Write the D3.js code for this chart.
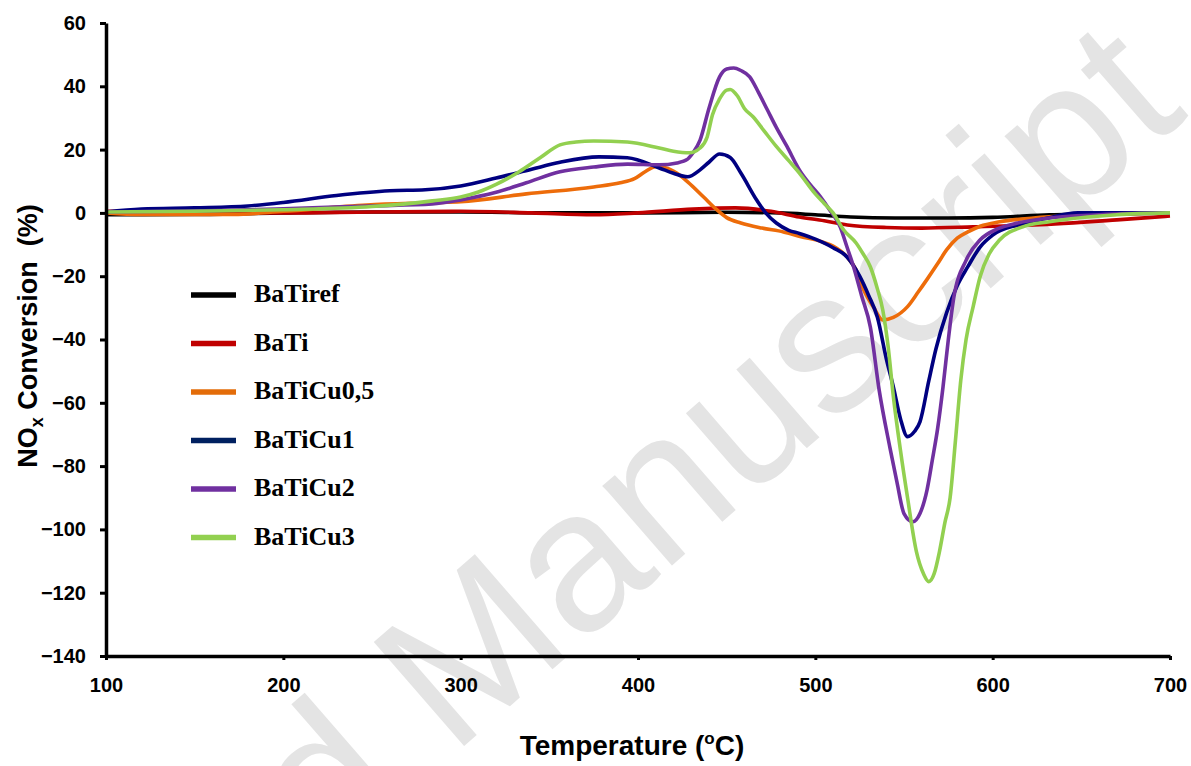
<!DOCTYPE html>
<html>
<head>
<meta charset="utf-8">
<script src="https://cdn.jsdelivr.net/npm/d3@7"></script>
<style>
	body { margin: 0; background: #fff; }
	svg { display: block; }
	.tick text { font-family: "Liberation Sans", Arial, sans-serif; font-weight: bold; font-size: 20px; fill: #000; }
</style>
</head>
<body>
<div id="graph-div"></div>
<script>
'use strict'

// series names, as in the legend
const seriesNames = ["BaTiref", "BaTi", "BaTiCu0,5", "BaTiCu1", "BaTiCu2", "BaTiCu3"]

// temperature (C) / NOx conversion (%)
const tRef = [100, 150, 200, 250, 300, 350, 400, 450, 480, 500, 520, 545, 575, 600, 632, 670, 700]
const vRef = [-0.6, -0.5, 0, 0.3, 0.3, 0, 0, 0.2, 0, -0.6, -1.3, -1.6, -1.6, -1.4, -0.6, -0.2, 0]

const tTi = [100, 150, 200, 250, 300, 340, 375, 400, 431, 455, 475, 491, 505, 518, 540, 560, 589, 623, 670, 700]
const vTi = [0.5, 0.3, 0, 0.3, 0.5, 0, -0.6, 0, 1.2, 1.6, 0.5, -1.3, -2.5, -3.8, -4.6, -4.8, -4.4, -3.8, -2.2, -1]

const tCu05 = [100, 120, 150, 172, 200, 247, 284, 300, 337, 375, 390, 398, 404, 410, 416, 422, 428, 437, 444, 450, 458, 470, 482, 492, 503, 510, 518, 523, 527, 533, 538, 544, 552, 558, 563, 569, 574, 580, 586, 593, 604, 623, 650, 700]
const vCu05 = [0, -0.5, -0.5, -0.5, 0.5, 2.5, 3.2, 3.5, 6, 8.2, 9.5, 10.8, 13, 14.6, 14.2, 12.5, 9.8, 5, 1.2, -1.5, -3.2, -4.8, -6, -7.5, -9, -10.5, -14, -18, -24, -30, -33.8, -33, -29.6, -25, -21, -16, -11.7, -8, -6, -4.2, -2.8, -1.6, -0.8, 0]

const tCu1 = [100, 120, 150, 180, 200, 230, 260, 280, 300, 320, 340, 356, 378, 394, 412, 420, 428, 435, 440, 446, 452, 458, 467, 472, 478, 485, 491, 500, 510, 518, 525, 530, 535, 540, 544, 548, 552, 556, 559, 564, 568, 574, 580, 586, 593, 600, 614, 630, 648, 670, 700]
const vCu1 = [0.3, 1.2, 1.6, 2.2, 3.3, 5.5, 7, 7.3, 8.5, 11, 13.8, 16, 17.7, 17.4, 14.2, 12.5, 11.4, 13.6, 16, 18.6, 17.5, 12.6, 4, 0, -3.2, -5.5, -6.5, -8.3, -11, -14, -20, -26, -33, -46, -55, -65, -70.7, -69, -66, -53, -43, -31.6, -23, -17, -10.7, -7, -3.8, -1.8, 0, 0, 0]

const tCu2 = [100, 150, 200, 250, 284, 300, 320, 337, 356, 375, 394, 412, 422, 428, 431, 435, 440, 446, 450, 454, 458, 463, 468, 473, 478, 484, 491, 497, 503, 508, 514, 518, 521, 526, 531, 536, 542, 546, 550, 555, 559, 563, 566, 569, 572, 575, 578, 585, 593, 603, 614, 632, 660, 700]
const vCu2 = [0.3, 0.6, 1.3, 2.2, 2.8, 4.1, 6.5, 9.5, 13, 14.5, 15.4, 15.2, 15.8, 17, 19, 23, 33, 43, 45.5, 45.8, 45, 43, 38, 32.5, 27, 21, 13.6, 9, 5, 1, -4.4, -11, -16, -26, -36, -56, -74, -85, -95, -97.6, -95, -87.5, -78, -68, -55, -40, -27, -15, -8.5, -5, -3.2, -1.6, -0.6, 0]

const tCu3 = [100, 150, 200, 250, 284, 300, 310, 320, 333, 345, 356, 365, 375, 394, 412, 420, 429, 435, 439, 442, 446, 450, 452, 456, 460, 465, 471, 478, 485, 491, 500, 505, 510, 516, 523, 527, 531, 535, 538, 541, 544, 548, 552, 557, 561, 564, 567, 570, 573, 576, 579, 582, 585, 589, 593, 598, 604, 617, 632, 670, 700]
const vCu3 = [0.3, 0.5, 1, 2, 3.8, 5, 6.6, 9, 13, 17.5, 21.5, 22.4, 22.7, 22.4, 20.5, 19.5, 19, 20.5, 24, 31, 36, 38.8, 39, 37, 33, 30.3, 26, 21, 16.5, 12.6, 6, 3, 0, -5.4, -9.5, -13, -17, -24, -30.6, -42, -58, -75, -90, -107, -114, -116.5, -114, -107, -98, -90, -72, -53, -40, -29.6, -20, -13, -8.5, -4.4, -2.8, -0.6, 0]

const seriesColors = ["#000000", "#c00000", "#ed6c0a", "#000080", "#7030a0", "#92d050"]
const legendColors = ["#000000", "#c00000", "#e36c09", "#002060", "#7030a0", "#92d050"]

const xTicks = [100, 200, 300, 400, 500, 600, 700]
const yTicks = [60, 40, 20, 0, -20, -40, -60, -80, -100, -120, -140]

function doGraph(){
	let width = 1191, height = 766
	let svg = d3.select("#graph-div").append("svg").attr("width", width).attr("height", height)

	// watermark from the scanned page
	svg.append("text")
		.attr("transform", "translate(1190,115) rotate(-41)")
		.attr("text-anchor", "end")
		.style("font-family", "Liberation Sans, Arial, sans-serif")
		.style("font-size", "200px")
		.style("fill", "#e4e4e4")
		.text("Accepted Manuscript")

	let xScale = d3.scaleLinear().domain([100, 700]).range([106, 1170])
	let yScale = d3.scaleLinear().domain([-140, 60]).range([656, 23])

	let tset = [tRef, tTi, tCu05, tCu1, tCu2, tCu3]
	let vset = [vRef, vTi, vCu05, vCu1, vCu2, vCu3]

	let line = d3.line()
		.x(function(d){ return xScale(d[0]) })
		.y(function(d){ return yScale(d[1]) })
		.curve(d3.curveMonotoneX)

	let lineg = svg.append("g")
	seriesNames.forEach(function(name, i){
		let pts = tset[i].map(function(t, j){ return [t, vset[i][j]] })
		lineg.append("path")
			.datum(pts)
			.attr("d", line)
			.attr("fill", "none")
			.attr("stroke", seriesColors[i])
			.attr("stroke-width", 3.6)
			.attr("stroke-linejoin", "round")
	})

	let xAxis = svg.append("g")
		.attr("transform", "translate(0,656)")
		.call(d3.axisBottom(xScale).tickValues(xTicks).tickSize(4).tickSizeOuter(0).tickPadding(18))
	let yAxis = svg.append("g")
		.attr("transform", "translate(106,0)")
		.call(d3.axisLeft(yScale).tickValues(yTicks).tickSize(6).tickSizeOuter(0).tickPadding(14))

	;[xAxis, yAxis].forEach(function(ax){
		ax.select(".domain").attr("stroke", "#000").attr("stroke-width", 3.5)
		ax.selectAll(".tick line").attr("stroke", "#000").attr("stroke-width", 3)
	})

	// axis titles
	let ytitle = svg.append("text")
		.attr("transform", "translate(37,336) rotate(-90)")
		.attr("text-anchor", "middle")
		.style("font-family", "Liberation Sans, Arial, sans-serif")
		.style("font-weight", "bold")
		.style("font-size", "27px")
	ytitle.append("tspan").text("NO")
	ytitle.append("tspan").attr("dy", 6).style("font-size", "18px").text("x")
	ytitle.append("tspan").attr("dy", -6).text(" Conversion\u00a0 (%)")

	let xtitle = svg.append("text")
		.attr("x", 632).attr("y", 755)
		.attr("text-anchor", "middle")
		.style("font-family", "Liberation Sans, Arial, sans-serif")
		.style("font-weight", "bold")
		.style("font-size", "28px")
	xtitle.append("tspan").text("Temperature (")
	xtitle.append("tspan").attr("dy", -11).style("font-size", "17px").text("o")
	xtitle.append("tspan").attr("dy", 11).text("C)")

	// legend
	let legend = svg.append("g")
	seriesNames.forEach(function(name, i){
		let ly = 295 + i * 48.5
		legend.append("line")
			.attr("x1", 191).attr("x2", 236)
			.attr("y1", ly).attr("y2", ly)
			.attr("stroke", legendColors[i])
			.attr("stroke-width", 5.5)
		legend.append("text")
			.attr("x", 254).attr("y", ly + 7)
			.style("font-family", "Liberation Serif, Times New Roman, serif")
			.style("font-weight", "bold")
			.style("font-size", "26px")
			.text(name)
	})
}
doGraph()
</script>
</body>
</html>
